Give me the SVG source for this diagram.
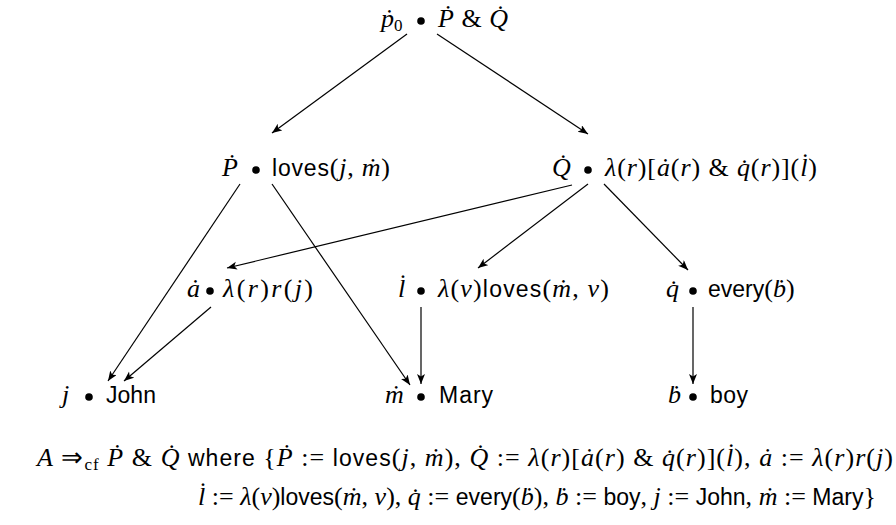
<svg xmlns="http://www.w3.org/2000/svg" width="896" height="525" viewBox="0 0 896 525">
<style>
text{font-size:26px;fill:#000}
.m{font-family:"Liberation Serif",serif;font-style:italic;font-size:26px}
.r{font-family:"Liberation Serif",serif;font-style:normal;font-size:26px}
.s{font-family:"Liberation Sans",sans-serif;font-style:normal;font-size:23px}
.sub{font-family:"Liberation Serif",serif;font-style:normal;font-size:17px}
.e line{stroke:#000;stroke-width:1.2;fill:none}
.dot{fill:#000}
</style>
<defs>
<marker id="ah" markerUnits="userSpaceOnUse" markerWidth="12" markerHeight="10" refX="10" refY="4" orient="auto">
<path d="M0,0 L10,4 L0,8 L2.5,4 z" fill="#000"/>
</marker>
</defs>
<g id="edges" class="e">
<line x1="407" y1="34" x2="272" y2="133" marker-end="url(#ah)"/>
<line x1="437" y1="34" x2="588" y2="134" marker-end="url(#ah)"/>
<line x1="240" y1="184" x2="108" y2="381" marker-end="url(#ah)"/>
<line x1="272" y1="184" x2="410" y2="385" marker-end="url(#ah)"/>
<line x1="572" y1="185" x2="227" y2="268" marker-end="url(#ah)"/>
<line x1="588" y1="184" x2="478" y2="268" marker-end="url(#ah)"/>
<line x1="604" y1="184" x2="688" y2="270" marker-end="url(#ah)"/>
<line x1="211" y1="307" x2="124" y2="381" marker-end="url(#ah)"/>
<line x1="421" y1="307" x2="421" y2="384" marker-end="url(#ah)"/>
<line x1="693" y1="307" x2="693" y2="384" marker-end="url(#ah)"/>
</g>
<g id="n-p0">
<text x="381" y="27"><tspan class="m">ṗ</tspan><tspan class="sub" dy="4">0</tspan></text>
<circle class="dot" cx="421" cy="21" r="3.8"/>
<text x="438" y="27" textLength="70" lengthAdjust="spacing"><tspan class="m">Ṗ</tspan><tspan class="r"> &amp; </tspan><tspan class="m">Q̇</tspan></text>
</g>
<g id="n-P">
<text x="222" y="176" class="m">Ṗ</text>
<circle class="dot" cx="256" cy="170" r="3.8"/>
<text x="272" y="176" textLength="118" lengthAdjust="spacing"><tspan class="s">loves</tspan><tspan class="r">(</tspan><tspan class="m">j</tspan><tspan class="r">, </tspan><tspan class="m">ṁ</tspan><tspan class="r">)</tspan></text>
</g>
<g id="n-Q">
<text x="552" y="176" class="m">Q̇</text>
<circle class="dot" cx="588" cy="170" r="3.8"/>
<text x="605" y="176" textLength="212" lengthAdjust="spacing"><tspan class="m">λ</tspan><tspan class="r">(</tspan><tspan class="m">r</tspan><tspan class="r">)[</tspan><tspan class="m">ȧ</tspan><tspan class="r">(</tspan><tspan class="m">r</tspan><tspan class="r">) &amp; </tspan><tspan class="m">q̇</tspan><tspan class="r">(</tspan><tspan class="m">r</tspan><tspan class="r">)](</tspan><tspan class="m">l̇</tspan><tspan class="r">)</tspan></text>
</g>
<g id="n-a">
<text x="187" y="297" class="m">ȧ</text>
<circle class="dot" cx="210" cy="291" r="3.8"/>
<text x="223" y="297" textLength="90" lengthAdjust="spacing"><tspan class="m">λ</tspan><tspan class="r">(</tspan><tspan class="m">r</tspan><tspan class="r">)</tspan><tspan class="m">r</tspan><tspan class="r">(</tspan><tspan class="m">j</tspan><tspan class="r">)</tspan></text>
</g>
<g id="n-l">
<text x="398" y="297" class="m">l̇</text>
<circle class="dot" cx="421" cy="291" r="3.8"/>
<text x="438" y="297" textLength="171" lengthAdjust="spacing"><tspan class="m">λ</tspan><tspan class="r">(</tspan><tspan class="m">v</tspan><tspan class="r">)</tspan><tspan class="s">loves</tspan><tspan class="r">(</tspan><tspan class="m">ṁ</tspan><tspan class="r">, </tspan><tspan class="m">v</tspan><tspan class="r">)</tspan></text>
</g>
<g id="n-q">
<text x="666" y="297" class="m">q̇</text>
<circle class="dot" cx="693" cy="291" r="3.8"/>
<text x="708" y="297"><tspan class="s">every</tspan><tspan class="r">(</tspan><tspan class="m">ḃ</tspan><tspan class="r">)</tspan></text>
</g>
<g id="n-j">
<text x="62" y="403" class="m">j</text>
<circle class="dot" cx="89" cy="397" r="3.8"/>
<text x="106" y="403" class="s" textLength="50" lengthAdjust="spacing">John</text>
</g>
<g id="n-m">
<text x="385" y="403" class="m">ṁ</text>
<circle class="dot" cx="421" cy="397" r="3.8"/>
<text x="439" y="403" class="s" textLength="54" lengthAdjust="spacing">Mary</text>
</g>
<g id="n-b">
<text x="668" y="403" class="m">ḃ</text>
<circle class="dot" cx="693" cy="397" r="3.8"/>
<text x="710" y="403" class="s" textLength="38" lengthAdjust="spacing">boy</text>
</g>
<g id="formula">
<text x="37" y="466" textLength="856" lengthAdjust="spacing"><tspan class="m">A</tspan><tspan class="r"> ⇒</tspan><tspan class="sub" dy="4">cf</tspan><tspan class="m" dy="-4"> Ṗ</tspan><tspan class="r"> &amp; </tspan><tspan class="m">Q̇</tspan><tspan class="s"> where </tspan><tspan class="r">{</tspan><tspan class="m">Ṗ</tspan><tspan class="r"> := </tspan><tspan class="s">loves</tspan><tspan class="r">(</tspan><tspan class="m">j</tspan><tspan class="r">, </tspan><tspan class="m">ṁ</tspan><tspan class="r">), </tspan><tspan class="m">Q̇</tspan><tspan class="r"> := </tspan><tspan class="m">λ</tspan><tspan class="r">(</tspan><tspan class="m">r</tspan><tspan class="r">)[</tspan><tspan class="m">ȧ</tspan><tspan class="r">(</tspan><tspan class="m">r</tspan><tspan class="r">) &amp; </tspan><tspan class="m">q̇</tspan><tspan class="r">(</tspan><tspan class="m">r</tspan><tspan class="r">)](</tspan><tspan class="m">l̇</tspan><tspan class="r">), </tspan><tspan class="m">ȧ</tspan><tspan class="r"> := </tspan><tspan class="m">λ</tspan><tspan class="r">(</tspan><tspan class="m">r</tspan><tspan class="r">)</tspan><tspan class="m">r</tspan><tspan class="r">(</tspan><tspan class="m">j</tspan><tspan class="r">)</tspan></text>
<text x="198" y="505" textLength="678" lengthAdjust="spacing"><tspan class="m">l̇</tspan><tspan class="r"> := </tspan><tspan class="m">λ</tspan><tspan class="r">(</tspan><tspan class="m">v</tspan><tspan class="r">)</tspan><tspan class="s">loves</tspan><tspan class="r">(</tspan><tspan class="m">ṁ</tspan><tspan class="r">, </tspan><tspan class="m">v</tspan><tspan class="r">), </tspan><tspan class="m">q̇</tspan><tspan class="r"> := </tspan><tspan class="s">every</tspan><tspan class="r">(</tspan><tspan class="m">ḃ</tspan><tspan class="r">), </tspan><tspan class="m">ḃ</tspan><tspan class="r"> := </tspan><tspan class="s">boy</tspan><tspan class="r">, </tspan><tspan class="m">j</tspan><tspan class="r"> := </tspan><tspan class="s">John</tspan><tspan class="r">, </tspan><tspan class="m">ṁ</tspan><tspan class="r"> := </tspan><tspan class="s">Mary</tspan><tspan class="r">}</tspan></text>
</g>
</svg>
